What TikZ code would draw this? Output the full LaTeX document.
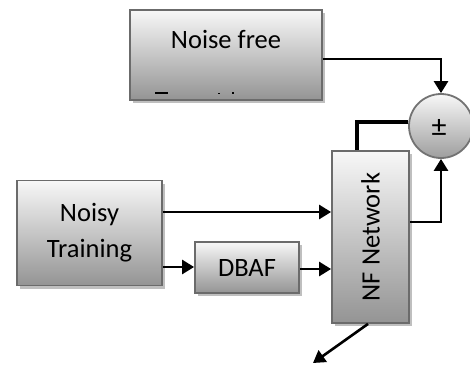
\documentclass[tikz,border=0pt]{standalone}
\usepackage{fontspec}
\setmainfont{Carlito}
\usetikzlibrary{arrows.meta,shadows}
\tikzset{
  gbox/.style={draw=black!58, line width=1.8pt, top color=black!3, bottom color=black!42,
    drop shadow={shadow xshift=3pt, shadow yshift=-3pt, fill=black!25, opacity=1},
    inner sep=0pt, font=\fontsize{26.5}{36}\selectfont, align=center},
  sumnode/.style={circle, draw=black!55, line width=1.8pt, top color=black!3, bottom color=black!38,
    minimum size=64pt, inner sep=0pt, font=\fontsize{30}{30}\selectfont},
  conn/.style={line width=2.6pt, -{Triangle[length=12pt,width=14pt]}},
  thickconn/.style={line width=4pt}
}
\begin{document}
\begin{tikzpicture}[x=1pt,y=-1pt]
\useasboundingbox (0,0) rectangle (470,367);
\begin{scope}
\clip (0,0) rectangle (470,367);
% boxes
\node[gbox, minimum width=192pt, minimum height=90pt] (nf) at (226,55) {};
\node[font=\fontsize{26.5}{30}\selectfont] (nftext) at (226,39) {Noise free};
\fill (155,92) rectangle (168,94);
\fill (218,92.5) rectangle (220,94);
\fill (232,92) rectangle (234,94);
\node[gbox, minimum width=145pt, minimum height=105pt] (noisy) at (89.5,233) {Noisy\\Training};
\node[gbox, minimum width=104pt, minimum height=51pt] (dbaf) at (247,267.5) {DBAF};
\node[gbox, minimum width=172pt, minimum height=77pt, rotate=90] (net) at (370.5,237) {NF Network};
\node[sumnode] (sum) at (441,126) {};
\node[font=\fontsize{30}{30}\selectfont] (pm) at (439,128) {±};
% connectors
\coordinate (c1) at (441,59);
\draw[conn] ([yshift=-4pt]nf.east) -- (c1) -- (sum.north);
\draw[conn] (noisy.east |- 0,212) -- (net.north |- 0,212);
\draw[conn] (noisy.east |- 0,267) -- (dbaf.west |- 0,267);
\draw[conn] (dbaf.east |- 0,269) -- (net.north |- 0,269);
\coordinate (c2) at (357,122);
\draw[thickconn] (net.east -| c2) -- (c2) -- (sum.west |- c2);
\coordinate (c3) at (441,222);
\draw[conn] (net.south |- c3) -- (c3) -- (sum.south);
\coordinate (out) at (313,363);
\draw[conn] (net.west -| 368,0) -- (out);
\end{scope}
\end{tikzpicture}
\end{document}
